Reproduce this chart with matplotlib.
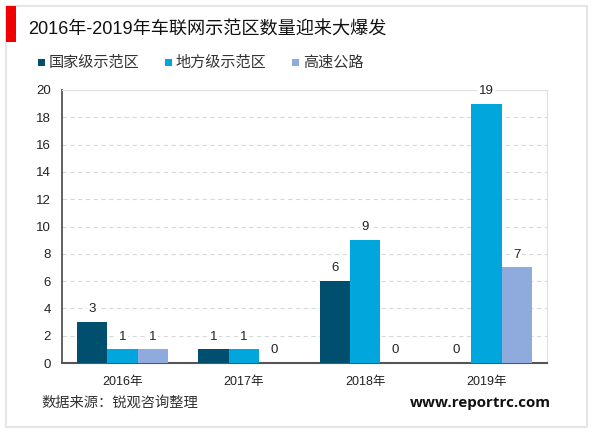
import matplotlib
matplotlib.use('Agg')
import matplotlib.pyplot as plt
from matplotlib.patches import Rectangle
import numpy as np

plt.rcParams['font.family'] = ['Liberation Sans', 'Noto Sans CJK SC', 'DejaVu Sans']

years = ['2016年', '2017年', '2018年', '2019年']
national = [3, 1, 6, 0]
local = [1, 1, 9, 19]
highway = [1, 0, 0, 7]
series_names = ['国家级示范区', '地方级示范区', '高速公路']
colors = ['#004f6e', '#00a6dc', '#8faadc']
yticks = list(range(0, 21, 2))

W, H = 600, 433
fig = plt.figure(figsize=(W / 100, H / 100), dpi=100, facecolor='white')


# pixel position -> figure fraction
def fx(px):
    return px / W


def fy(py):
    return 1 - py / H


# outer frame and red title block
fig.add_artist(Rectangle((fx(6), fy(427)), fx(581), fy(6) - fy(427), fill=False, ec='#e6e6e6', lw=1.5))
fig.add_artist(Rectangle((fx(6), fy(42)), fx(10), fy(6) - fy(42), fc='#f00000', ec='none'))

fig.text(fx(28), fy(30), '2016年-2019年车联网示范区数量迎来大爆发', fontsize=13.1, color='#111111', va='center')

# legend drawn by hand so it sits where the original does
legend_x = [38, 165, 292]
for x, name, c in zip(legend_x, series_names, colors):
    fig.add_artist(Rectangle((fx(x), fy(66)), fx(7), fy(59) - fy(66), fc=c, ec='none'))
    fig.text(fx(x + 11), fy(62.5), name, fontsize=10.9, color='#333333', va='center')

ax = fig.add_axes([fx(62), fy(363), fx(485), fy(90) - fy(363)])
x = np.arange(len(years))
w = 0.25
for i, (vals, c) in enumerate(zip([national, local, highway], colors)):
    pos = x + (i - 1) * w
    ax.bar(pos, vals, w, color=c, zorder=3)
    for p, v in zip(pos, vals):
        # white box breaks the dashed grid behind the label, as in the original
        ax.text(p, v + 0.5, str(v), ha='center', va='bottom', fontsize=9.5, color='#222222', zorder=4,
                bbox=dict(fc='white', ec='none', pad=1))

ax.set_xlim(-0.5, 3.5)
ax.set_ylim(0, 20)
ax.set_yticks(yticks)
ax.set_xticks(x)
ax.set_xticklabels(years)
ax.tick_params(axis='y', length=0, labelsize=9.5, labelcolor='#222222', pad=8)
ax.tick_params(axis='x', length=0, labelsize=9, labelcolor='#222222', pad=9)
ax.grid(axis='y', color='#d9d9d9', ls=(0, (4, 3)), lw=0.8, zorder=0)
ax.spines['top'].set_color('#e0e0e0')
ax.spines['right'].set_color('#e0e0e0')
ax.spines['left'].set_color('#555555')
ax.spines['bottom'].set_color('#555555')
ax.spines['left'].set_linewidth(1.3)
ax.spines['bottom'].set_linewidth(1.5)

fig.text(fx(41), fy(403), '数据来源：锐观咨询整理', fontsize=10.3, color='#333333', va='center')
fig.text(fx(551), fy(403), 'www.reportrc.com', fontsize=10.9, fontweight='bold', color='#111111',
         family=['Open Sans', 'DejaVu Sans'], va='center', ha='right')

fig.savefig('out.png', dpi=100)
